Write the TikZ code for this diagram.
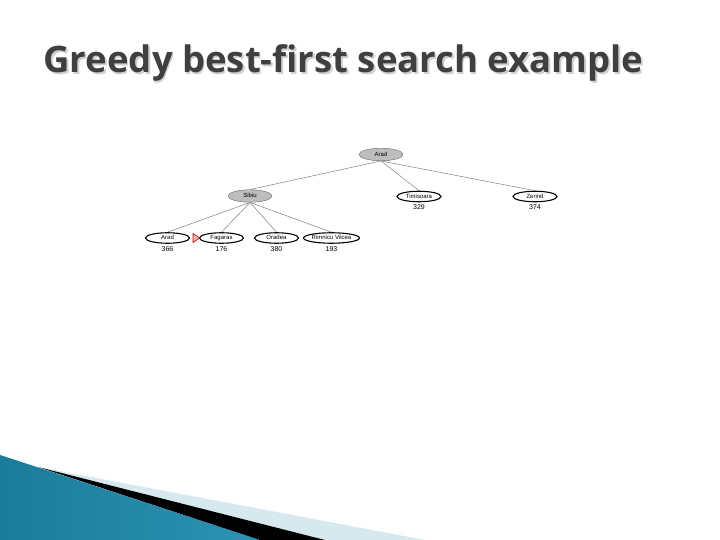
\documentclass[tikz,border=0pt]{standalone}
\usepackage{fontspec}
\setmainfont{Liberation Sans}
\newfontfamily\titlefont{Open Sans}
\usetikzlibrary{shapes.geometric}
\usetikzlibrary{positioning}

\definecolor{titlegray}{HTML}{3F3F3F}
\definecolor{shadowgray}{HTML}{CFCFCF}
\definecolor{nodegray}{HTML}{BDBDBD}
\definecolor{tealdark}{HTML}{1B7C99}
\definecolor{teallight}{HTML}{4DB3D4}
\definecolor{tealmid}{HTML}{2C93B4}
\definecolor{palecyan}{HTML}{D6E9EF}

\begin{document}
\begin{tikzpicture}[x=1pt,y=-1pt,
    frontier/.style={ellipse, draw=black, line width=1.1pt, fill=white,
      minimum width=44pt, minimum height=10.5pt, inner sep=0pt,
      text height=4.4pt, text depth=1.2pt,
      font=\fontsize{6}{6}\selectfont},
    expanded/.style={frontier, draw=gray!80!black, line width=0.4pt, fill=nodegray,
      minimum height=12.5pt},
    hval/.style={inner sep=0pt, font=\fontsize{7}{7}\selectfont},
    treeedge/.style={gray, line width=0.5pt}]
    \useasboundingbox (0,0) rectangle (720,540);

    % title with its shadow
    \node[anchor=base west, text=shadowgray, font=\titlefont\bfseries\fontsize{36.5}{40}\selectfont]
      at (41.5,74.5) {Greedy best-first search example};
    \node[anchor=base west, text=titlegray, font=\titlefont\bfseries\fontsize{36.5}{40}\selectfont]
      (title) at (40,73) {Greedy best-first search example};

    % search tree
    \node[expanded] (arad) at (381,154.5) {Arad};
    \node[expanded] (sibiu) at (250,196) {Sibiu};
    \node[frontier] (timisoara) at (419,196.5) {Timisoara};
    \node[frontier] (zerind) at (535,196.5) {Zerind};
    \node[frontier] (arad2) at (167.5,238) {Arad};
    \node[frontier] (fagaras) at (221.5,238) {Fagaras};
    \node[frontier] (oradea) at (276.5,238) {Oradea};
    \node[frontier] (rimnicu) at (331.5,238) {Rimnicu Vilcea};

    \node[hval, below=2.5pt of timisoara] {329};
    \node[hval, below=2.5pt of zerind] {374};
    \node[hval, below=2.5pt of arad2] {366};
    \node[hval, below=2.5pt of fagaras] {176};
    \node[hval, below=2.5pt of oradea] {380};
    \node[hval, below=2.5pt of rimnicu] {193};

    \draw[treeedge] (arad.south) -- (sibiu.north);
    \draw[treeedge] (arad.south) -- (timisoara.north);
    \draw[treeedge] (arad.south) -- (zerind.north);
    \foreach \child in {arad2,fagaras,oradea,rimnicu}
      \draw[treeedge] (sibiu.south) -- (\child.north);

    % next node to expand
    \filldraw[draw=red!80!black, fill=red!30, line width=0.6pt]
      (193,233.5) -- (199.5,238) -- (193,242.5) -- cycle;

    % corner decoration
    \shade[left color=tealdark, middle color=teallight, right color=tealmid]
      (0,455) -- (260,540) -- (0,540) -- cycle;
    \fill[palecyan] (38,467) -- (425,540) -- (325,540) -- cycle;
    \fill[black] (38,467) -- (325,540) -- (260,540) -- cycle;
\end{tikzpicture}
\end{document}
